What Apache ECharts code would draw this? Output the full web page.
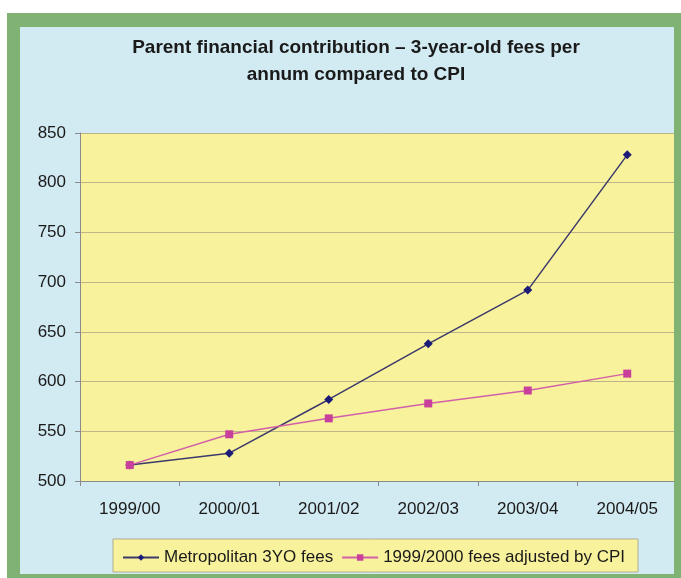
<!DOCTYPE html>
<html>
<head>
<meta charset="utf-8">
<script src="https://cdn.jsdelivr.net/npm/echarts@6/dist/echarts.min.js"></script>
<style>
html,body{margin:0;padding:0;background:#ffffff;}
#main{width:681px;height:578px;}
</style>
</head>
<body>
<div id="main"></div>
<script>
var categories = ['1999/00', '2000/01', '2001/02', '2002/03', '2003/04', '2004/05'];
var metroFees = [516, 528, 582, 638, 692, 828];
var cpiFees = [516, 547, 563, 578, 591, 608];
var seriesNames = ['Metropolitan 3YO fees', '1999/2000 fees adjusted by CPI'];
var titleText = 'Parent financial contribution \u2013 3-year-old fees per\nannum compared to CPI';

var chart = echarts.init(document.getElementById('main'));
var font = 'Liberation Sans, Arial, sans-serif';
chart.setOption({
  backgroundColor: '#ffffff',
  animation: false,
  title: {
    text: titleText,
    left: 351,
    top: 29,
    textAlign: 'center',
    textStyle: {fontFamily: font, fontSize: 19, fontWeight: 'bold', color: '#1a1a1a', lineHeight: 27}
  },
  graphic: [
    {type: 'rect', z: -10, shape: {x: 7, y: 13, width: 680, height: 570}, style: {fill: '#80b373'}},
    {type: 'rect', z: -9, shape: {x: 20, y: 27, width: 654, height: 547}, style: {fill: '#d2eaf2'}},
    {type: 'rect', z: 100, shape: {x: 674, y: 13, width: 7, height: 570}, style: {fill: '#80b373'}},
    {type: 'rect', z: 1, shape: {x: 113, y: 539, width: 525, height: 33}, style: {fill: '#f8f29d', stroke: '#b0ad90', lineWidth: 1}}
  ],
  grid: {
    left: 80, right: 4, top: 133, bottom: 97,
    show: true, backgroundColor: '#f8f29d', borderWidth: 0
  },
  legend: {
    data: seriesNames,
    left: 117,
    top: 544,
    itemWidth: 36,
    itemHeight: 8,
    itemGap: 8,
    textStyle: {fontFamily: font, fontSize: 17, color: '#1a1a1a'}
  },
  xAxis: {
    type: 'category',
    data: categories,
    boundaryGap: true,
    axisLine: {show: true, lineStyle: {color: '#8a8a8a', width: 1}},
    axisTick: {show: true, length: 5, inside: false, lineStyle: {color: '#8a8a8a'}},
    axisLabel: {fontFamily: font, fontSize: 17, color: '#1a1a1a', margin: 20},
    splitLine: {show: false}
  },
  yAxis: {
    type: 'value',
    min: 500, max: 850, interval: 50,
    axisLine: {show: true, lineStyle: {color: '#8a8a8a', width: 1}},
    axisTick: {show: true, length: 5, lineStyle: {color: '#8a8a8a'}},
    axisLabel: {fontFamily: font, fontSize: 17, color: '#1a1a1a', margin: 14},
    splitLine: {show: true, lineStyle: {color: '#bdb48a', width: 1}}
  },
  series: [
    {
      name: seriesNames[0],
      type: 'line',
      data: metroFees,
      symbol: 'diamond',
      symbolSize: 9,
      lineStyle: {color: '#3c3a6a', width: 1.5},
      itemStyle: {color: '#1c1c78'},
      z: 2
    },
    {
      name: seriesNames[1],
      type: 'line',
      data: cpiFees,
      symbol: 'rect',
      symbolSize: 8,
      lineStyle: {color: '#d160a8', width: 1.5},
      itemStyle: {color: '#c8409c'},
      z: 3
    }
  ]
});
</script>
</body>
</html>
